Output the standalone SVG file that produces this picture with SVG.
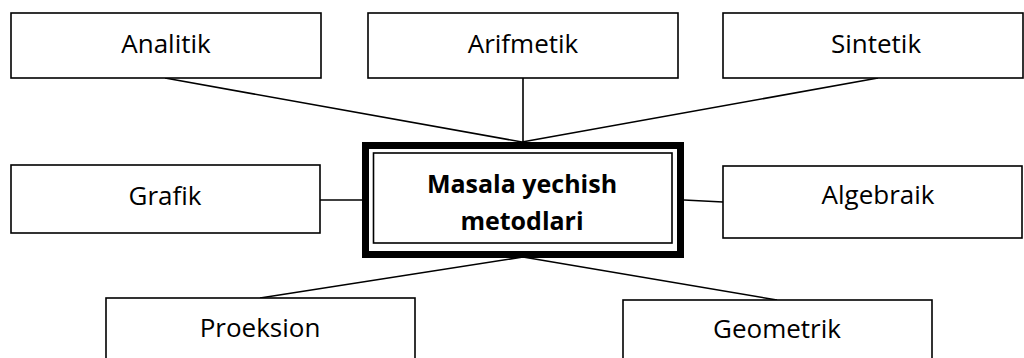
<svg xmlns="http://www.w3.org/2000/svg" width="1024" height="358" viewBox="0 0 1024 358">
<style>
.box{fill:#fff;stroke:#000;stroke-width:1.6}
.lbl{font-family:"Open Sans","Noto Sans",sans-serif;font-size:26px;fill:#000;text-anchor:middle}
.bold{font-weight:bold;font-size:25px}
.con{stroke:#000;stroke-width:1.6;fill:none}
</style>
<rect width="1024" height="358" fill="#fff"/>
<g id="connectors">
<line class="con" x1="165" y1="78" x2="522" y2="142"/>
<line class="con" x1="523" y1="78" x2="523" y2="142"/>
<line class="con" x1="878" y1="78" x2="522" y2="142"/>
<line class="con" x1="320" y1="200" x2="362" y2="200"/>
<line class="con" x1="684" y1="200" x2="723" y2="202"/>
<line class="con" x1="523" y1="257" x2="260" y2="298"/>
<line class="con" x1="523" y1="257" x2="777" y2="300"/>
</g>
<g id="analitik">
<rect class="box" x="11" y="13" width="310" height="65"/>
<text class="lbl" x="166" y="53">Analitik</text>
</g>
<g id="arifmetik">
<rect class="box" x="368" y="13" width="310" height="65"/>
<text class="lbl" x="523" y="53">Arifmetik</text>
</g>
<g id="sintetik">
<rect class="box" x="723" y="13" width="300" height="65"/>
<text class="lbl" x="876" y="53">Sintetik</text>
</g>
<g id="grafik">
<rect class="box" x="11" y="165" width="309" height="68"/>
<text class="lbl" x="165" y="205">Grafik</text>
</g>
<g id="algebraik">
<rect class="box" x="723" y="166" width="299" height="72"/>
<text class="lbl" x="878" y="204">Algebraik</text>
</g>
<g id="proeksion">
<rect class="box" x="106" y="298" width="309" height="70"/>
<text class="lbl" x="260" y="337">Proeksion</text>
</g>
<g id="geometrik">
<rect class="box" x="623" y="300" width="309" height="70"/>
<text class="lbl" x="777" y="338">Geometrik</text>
</g>
<g id="center">
<rect x="365.5" y="145.5" width="315" height="109" fill="#fff" stroke="#000" stroke-width="7"/>
<rect x="373.5" y="153" width="298.5" height="90" fill="none" stroke="#000" stroke-width="1.6"/>
<text class="lbl bold" x="522" y="193">Masala yechish</text>
<text class="lbl bold" x="522" y="230">metodlari</text>
</g>
</svg>
